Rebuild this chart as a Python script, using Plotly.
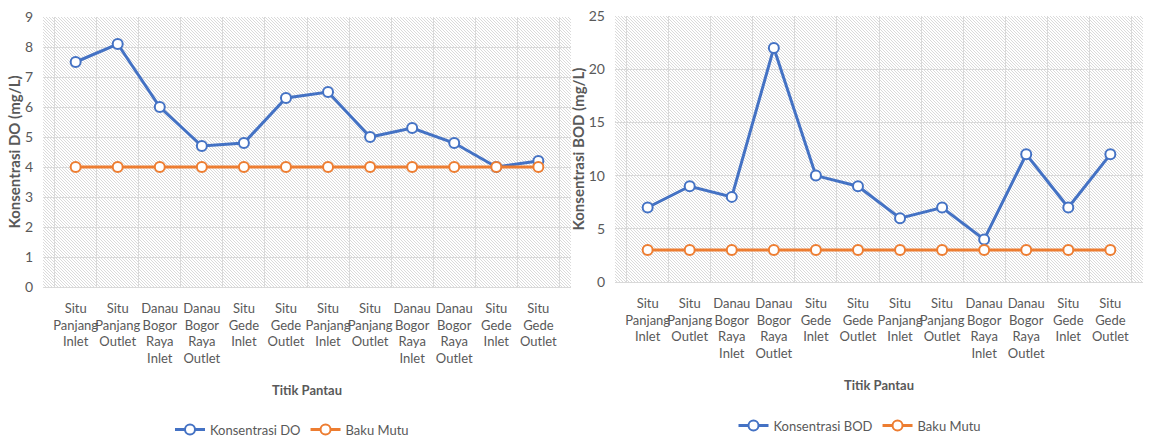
import base64
import plotly.graph_objects as go

# Monitoring points (x categories) and their wrapped tick labels
titik = [
    "Situ Panjang Inlet", "Situ Panjang Outlet", "Danau Bogor Raya Inlet",
    "Danau Bogor Raya Outlet", "Situ Gede Inlet", "Situ Gede Outlet",
    "Situ Panjang Inlet ", "Situ Panjang Outlet ", "Danau Bogor Raya Inlet ",
    "Danau Bogor Raya Outlet ", "Situ Gede Inlet ", "Situ Gede Outlet ",
]
tick_labels = [
    "Situ<br>Panjang<br>Inlet", "Situ<br>Panjang<br>Outlet", "Danau<br>Bogor<br>Raya<br>Inlet",
    "Danau<br>Bogor<br>Raya<br>Outlet", "Situ<br>Gede<br>Inlet", "Situ<br>Gede<br>Outlet",
    "Situ<br>Panjang<br>Inlet", "Situ<br>Panjang<br>Outlet", "Danau<br>Bogor<br>Raya<br>Inlet",
    "Danau<br>Bogor<br>Raya<br>Outlet", "Situ<br>Gede<br>Inlet", "Situ<br>Gede<br>Outlet",
]

# Measured concentrations and quality standards (mg/L)
konsentrasi_do = [7.5, 8.1, 6.0, 4.7, 4.8, 6.3, 6.5, 5.0, 5.3, 4.8, 4.0, 4.2]
baku_mutu_do = [4, 4, 4, 4, 4, 4, 4, 4, 4, 4, 4, 4]
konsentrasi_bod = [7, 9, 8, 22, 10, 9, 6, 7, 4, 12, 7, 12]
baku_mutu_bod = [3, 3, 3, 3, 3, 3, 3, 3, 3, 3, 3, 3]

BLUE = "#4472C4"
ORANGE = "#ED7D31"
GREY = "#595959"
GRID = "#d9d9d9"
FONT = "Lato, sans-serif"

W, H = 1156, 441

# Legend top edges in container pixels
LEG1_TOP, LEG2_TOP = 414.5, 410.5


def hatch_svg(w, h, step=3, color="#d6d6d6"):
    svg = (
        f'<svg xmlns="http://www.w3.org/2000/svg" width="{w}" height="{h}" '
        f'viewBox="0 0 {w} {h}" preserveAspectRatio="none">'
        f'<defs><pattern id="p" width="{step}" height="{step}" patternUnits="userSpaceOnUse">'
        f'<line x1="-1" y1="-1" x2="{step + 1}" y2="{step + 1}" stroke="{color}" stroke-width="0.9"/>'
        f'</pattern></defs>'
        f'<rect width="{w}" height="{h}" fill="#ffffff"/>'
        f'<rect width="{w}" height="{h}" fill="url(#p)"/></svg>'
    )
    return "data:image/svg+xml;base64," + base64.b64encode(svg.encode()).decode()


def line_trace(y, name, color, xa, ya, legend):
    return go.Scatter(
        x=titik, y=y, name=name, mode="lines+markers",
        line=dict(color=color, width=3),
        marker=dict(symbol="circle", size=10, color="white",
                    line=dict(color=color, width=2)),
        xaxis=xa, yaxis=ya, legend=legend,
    )


fig = go.Figure()
fig.add_trace(line_trace(konsentrasi_do, "Konsentrasi DO", BLUE, "x", "y", "legend"))
fig.add_trace(line_trace(baku_mutu_do, "Baku Mutu", ORANGE, "x", "y", "legend"))
fig.add_trace(line_trace(konsentrasi_bod, "Konsentrasi BOD", BLUE, "x2", "y2", "legend2"))
fig.add_trace(line_trace(baku_mutu_bod, "Baku Mutu", ORANGE, "x2", "y2", "legend2"))


def px_x(a, b):
    return [a / W, b / W]


def px_y(top, bottom):
    return [1 - bottom / H, 1 - top / H]


xcommon = dict(
    type="category", tickson="boundaries", ticks="", showgrid=True, gridcolor=GRID,
    gridwidth=1, tickvals=titik, ticktext=tick_labels, showline=True, linecolor=GRID,
    tickfont=dict(family=FONT, size=13, color=GREY), tickangle=0,
    ticklabelstandoff=9, zeroline=False, fixedrange=True, automargin=False,
)
ycommon = dict(
    showgrid=True, gridcolor=GRID, gridwidth=1, ticks="", zeroline=False,
    tickfont=dict(family=FONT, size=14, color=GREY), showline=False,
    ticklabelstandoff=9, automargin=False,
)
xtitle = dict(text="<b>Titik Pantau</b>", font=dict(size=13, color=GREY), standoff=20)

fig.update_layout(
    width=W, height=H, margin=dict(l=0, r=0, t=0, b=0, autoexpand=False),
    paper_bgcolor="white", plot_bgcolor="white",
    font=dict(family=FONT, color=GREY),
    xaxis=dict(**xcommon, domain=px_x(43, 571), anchor="y", title=xtitle),
    yaxis=dict(**ycommon, domain=px_y(17, 287), anchor="x", range=[0, 9], dtick=1,
               title=dict(text="<b>Konsentrasi DO (mg/L)</b>", font=dict(size=15, color=GREY), standoff=0)),
    xaxis2=dict(**xcommon, domain=px_x(615, 1143), anchor="y2", title=xtitle),
    yaxis2=dict(**ycommon, domain=px_y(16, 282), anchor="x2", range=[0, 25], dtick=5,
                title=dict(text="<b>Konsentrasi BOD (mg/L)</b>", font=dict(size=15, color=GREY), standoff=0)),
    legend=dict(orientation="h", xref="container", yref="container",
                x=292 / W, xanchor="center", y=1 - LEG1_TOP / H, yanchor="top",
                font=dict(family=FONT, size=13, color=GREY), bgcolor="rgba(0,0,0,0)",
                itemwidth=30, tracegroupgap=0),
    legend2=dict(orientation="h", xref="container", yref="container",
                 x=860 / W, xanchor="center", y=1 - LEG2_TOP / H, yanchor="top",
                 font=dict(family=FONT, size=13, color=GREY), bgcolor="rgba(0,0,0,0)",
                 itemwidth=30, tracegroupgap=0),
    images=[
        dict(source=hatch_svg(528, 270), xref="x domain", yref="y domain", x=0, y=1,
             sizex=1, sizey=1, xanchor="left", yanchor="top", sizing="stretch", layer="below"),
        dict(source=hatch_svg(528, 266), xref="x2 domain", yref="y2 domain", x=0, y=1,
             sizex=1, sizey=1, xanchor="left", yanchor="top", sizing="stretch", layer="below"),
    ],
)

fig.write_html("out.html")
